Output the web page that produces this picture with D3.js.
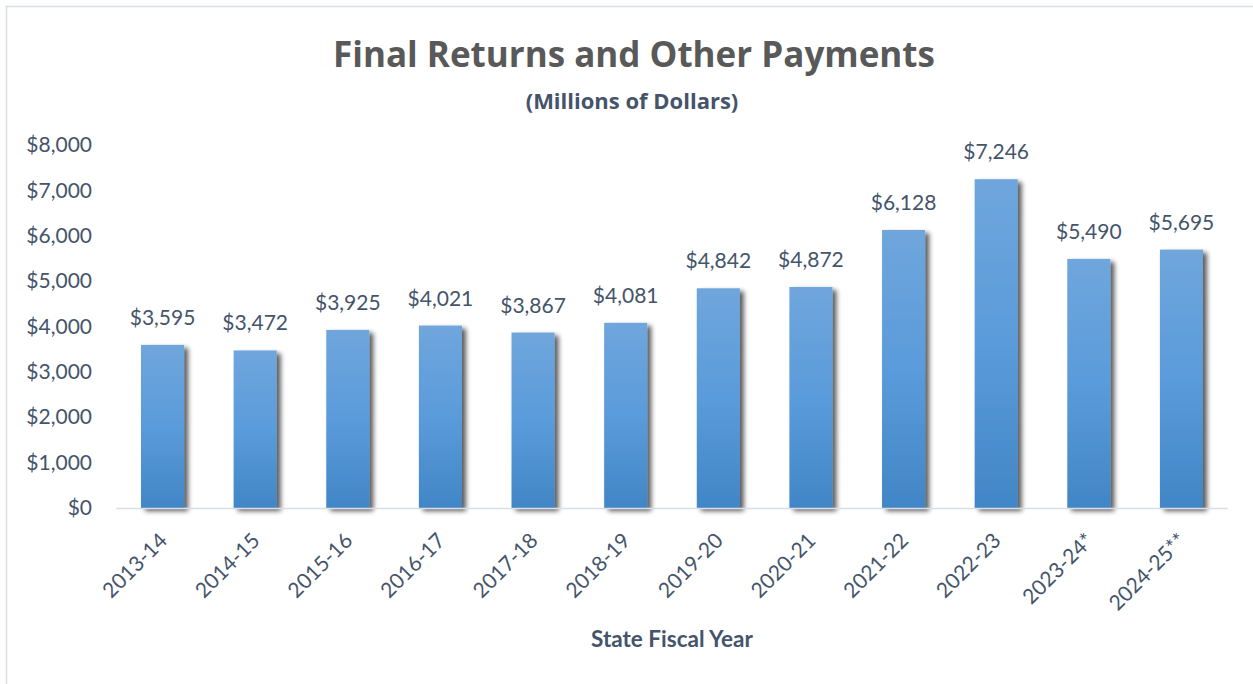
<!DOCTYPE html>
<html>
<head>
<meta charset="utf-8">
<script src="https://cdn.jsdelivr.net/npm/d3@7"></script>
<style>
  body { margin: 0; background: #fff; }
  svg { font-family: Lato, "Open Sans", sans-serif; }
</style>
</head>
<body>
<svg id="chart" width="1253" height="684"></svg>
<script>
// chart data
const years = ["2013-14", "2014-15", "2015-16", "2016-17", "2017-18", "2018-19",
  "2019-20", "2020-21", "2021-22", "2022-23", "2023-24*", "2024-25**"];
const payments = [3595, 3472, 3925, 4021, 3867, 4081, 4842, 4872, 6128, 7246, 5490, 5695];
const yTicks = [0, 1000, 2000, 3000, 4000, 5000, 6000, 7000, 8000];

const svg = d3.select("#chart");
const textcolor = "#44546a";

// plot area
const plotleft = 116, plotright = 1228, plottop = 145, plotbottom = 508;

// outer frame (only left and top show in the picture)
svg.append("path")
  .attr("d", "M6.5,684 L6.5,6.5 L1253,6.5")
  .attr("fill", "none")
  .attr("stroke", "#d9dee6")
  .attr("stroke-width", 1.5);

const x = d3.scaleBand().domain(years).range([plotleft, plotright]).paddingInner(0.535).paddingOuter(0.27);
const y = d3.scaleLinear().domain([0, 8000]).range([plotbottom, plottop]);

// gradient + shadow for bars
const defs = svg.append("defs");
const grad = defs.append("linearGradient").attr("id", "bargrad")
  .attr("x1", 0).attr("y1", 0).attr("x2", 0).attr("y2", 1);
grad.append("stop").attr("offset", "0%").attr("stop-color", "#6fa6dc");
grad.append("stop").attr("offset", "50%").attr("stop-color", "#5a9bdb");
grad.append("stop").attr("offset", "100%").attr("stop-color", "#4186c6");

const shadow = defs.append("filter").attr("id", "shadow")
  .attr("x", "-20%").attr("y", "-10%").attr("width", "160%").attr("height", "130%");
shadow.append("feGaussianBlur").attr("in", "SourceAlpha").attr("stdDeviation", 2.5);
shadow.append("feOffset").attr("dx", 4).attr("dy", 3).attr("result", "off");
shadow.append("feComponentTransfer").append("feFuncA").attr("type", "linear").attr("slope", 0.65);
const merge = shadow.append("feMerge");
merge.append("feMergeNode");
merge.append("feMergeNode").attr("in", "SourceGraphic");

// title
svg.append("text")
  .attr("x", 634).attr("y", 67)
  .attr("text-anchor", "middle")
  .attr("font-family", "'Open Sans', Lato, sans-serif")
  .attr("font-size", 35).attr("font-weight", "bold")
  .attr("fill", "#595959")
  .text("Final Returns and Other Payments");

svg.append("text")
  .attr("x", 632).attr("y", 109)
  .attr("text-anchor", "middle")
  .attr("font-family", "'Open Sans', Lato, sans-serif")
  .attr("font-size", 22).attr("font-weight", "bold")
  .attr("fill", textcolor)
  .text("(Millions of Dollars)");

// y axis labels
const yAxis = d3.axisLeft(y).tickValues(yTicks)
  .tickFormat(d => "$" + d3.format(",")(d)).tickSize(0).tickPadding(0);
const yg = svg.append("g").attr("transform", `translate(${92},0)`).call(yAxis);
yg.select(".domain").remove();
yg.selectAll("text").attr("font-size", 21).attr("fill", textcolor)
  .attr("font-family", "Lato, 'Open Sans', sans-serif");

// bars
svg.append("g").selectAll("rect")
  .data(payments)
  .join("rect")
  .attr("x", (d, i) => x(years[i]))
  .attr("y", d => y(d))
  .attr("width", x.bandwidth())
  .attr("height", d => plotbottom - y(d))
  .attr("fill", "url(#bargrad)")
  .attr("filter", "url(#shadow)");

// baseline
svg.append("line")
  .attr("x1", plotleft).attr("x2", plotright)
  .attr("y1", plotbottom + 0.5).attr("y2", plotbottom + 0.5)
  .attr("stroke", "#d9dee6").attr("stroke-width", 1.5);

// value labels
svg.append("g").selectAll("text")
  .data(payments)
  .join("text")
  .attr("x", (d, i) => x(years[i]) + x.bandwidth() / 2)
  .attr("y", d => y(d) - 20)
  .attr("text-anchor", "middle")
  .attr("font-size", 21)
  .attr("fill", textcolor)
  .text(d => "$" + d3.format(",")(d));

// x axis labels rotated
const xAxis = d3.axisBottom(x).tickSize(0).tickPadding(0);
const xg = svg.append("g").attr("transform", `translate(0,${plotbottom})`).call(xAxis);
xg.select(".domain").remove();
xg.selectAll("text")
  .attr("font-size", 21).attr("fill", textcolor)
  .attr("font-family", "Lato, 'Open Sans', sans-serif")
  .attr("text-anchor", "end")
  .attr("dy", null)
  .attr("transform", "translate(6,34) rotate(-45)");

// x axis title
svg.append("text")
  .attr("x", 672).attr("y", 647)
  .attr("text-anchor", "middle")
  .attr("font-size", 22.5).attr("font-weight", "bold")
  .attr("fill", textcolor)
  .text("State Fiscal Year");
</script>
</body>
</html>
